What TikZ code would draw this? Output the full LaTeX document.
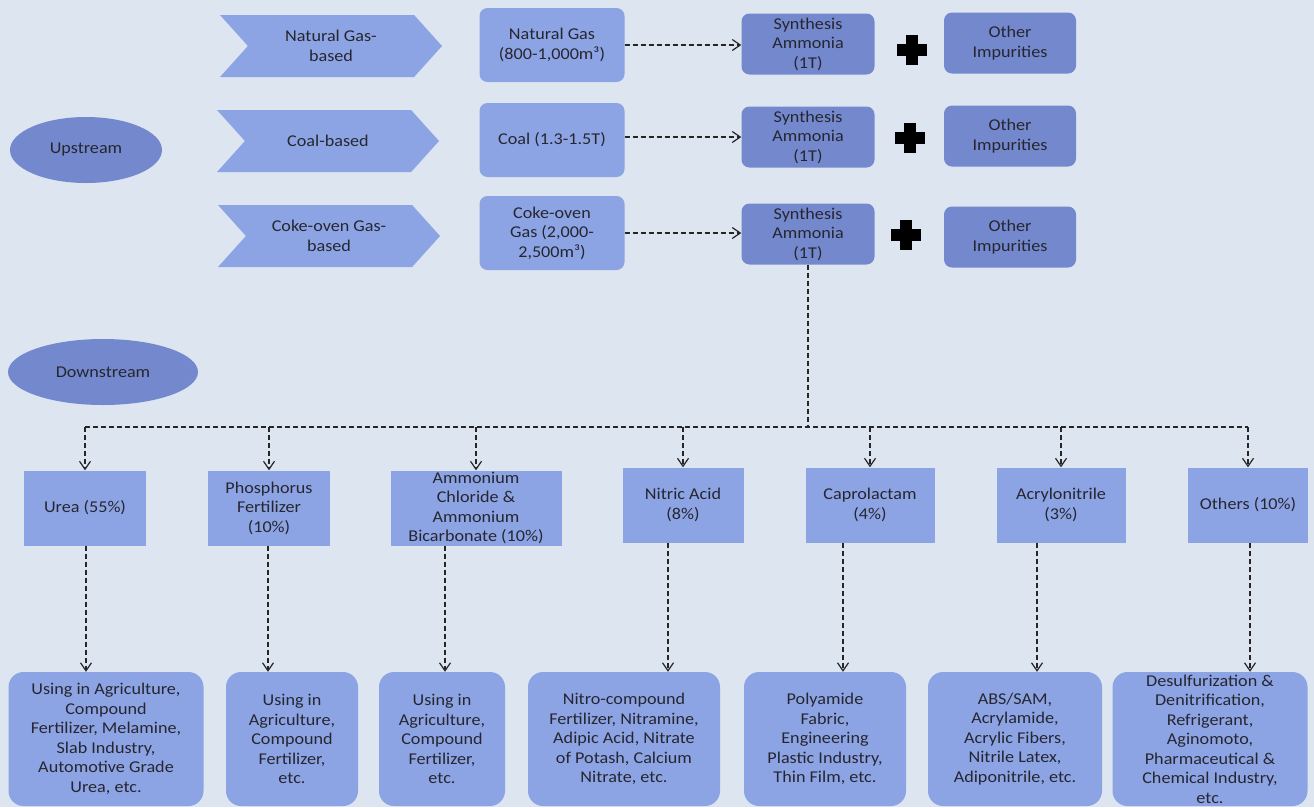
\documentclass[tikz,border=0pt]{standalone}
\usepackage{fontspec}
\setmainfont{Carlito}[FakeStretch=1.1]
\usetikzlibrary{arrows.meta, shapes.geometric, shapes.symbols}
\definecolor{bgblue}{RGB}{221,229,241}
\definecolor{lightbox}{RGB}{141,164,228}
\definecolor{darkbox}{RGB}{116,136,206}
\definecolor{txtgray}{RGB}{38,38,48}

\begin{document}
\begin{tikzpicture}[x=1pt, y=-1pt,
        base/.style={inner sep=0pt, align=center, text=txtgray, font=\fontsize{16.5}{19.5}\selectfont},
        stage/.style={base, ellipse, fill=darkbox, minimum height=66pt},
        chev/.style={base, signal, signal from=west, signal to=east, signal pointer angle=96,
            fill=lightbox, minimum width=222pt, minimum height=62pt},
        rawbox/.style={base, rounded corners=8pt, fill=lightbox, minimum width=145pt, minimum height=74pt},
        darkbox/.style={base, rounded corners=8pt, fill=darkbox, minimum width=133pt, minimum height=61pt},
        prodbox/.style={base, fill=lightbox, minimum height=75pt},
        usebox/.style={base, rounded corners=15pt, fill=lightbox, minimum height=134pt},
        dline/.style={draw=black!85, line width=1.3pt, dash pattern=on 5pt off 3pt},
        flow/.style={dline, -{Straight Barb[length=8pt,width=11pt,line width=1.2pt]}}]

        \useasboundingbox (0,0) rectangle (1314,807);
        \fill[bgblue] (0,0) rectangle (1314,807);

        % upstream
        \node[stage, minimum width=152pt] (up) at (86,150) {Upstream};
        \node[stage, minimum width=190pt] (down) at (103,372) {Downstream};

        \node[chev] (ng) at (331,46) {Natural Gas-\\based};
        \node[chev] (coal) at (328,141) {Coal-based};
        \node[chev] (coke) at (329,236) {Coke-oven Gas-\\based};

        \node[rawbox] (raw1) at (552,45) {Natural Gas\\(800-1,000m³)};
        \node[rawbox] (raw2) at (552,140) {Coal (1.3-1.5T)};
        \node[rawbox] (raw3) at (552,233) {Coke-oven\\Gas (2,000-\\2,500m³)};

        \node[darkbox] (syn1) at (808,44) {Synthesis\\Ammonia\\(1T)};
        \node[darkbox] (syn2) at (808,137) {Synthesis\\Ammonia\\(1T)};
        \node[darkbox] (syn3) at (808,234) {Synthesis\\Ammonia\\(1T)};

        \node[darkbox, minimum width=132pt] (imp1) at (1010,43) {Other\\Impurities};
        \node[darkbox, minimum width=132pt] (imp2) at (1010,136) {Other\\Impurities};
        \node[darkbox, minimum width=132pt] (imp3) at (1010,237) {Other\\Impurities};

        \foreach \px/\py in {912/50, 910/138, 906/235} {
            \fill[black] (\px-15,\py-6) rectangle (\px+15,\py+6);
            \fill[black] (\px-6,\py-15) rectangle (\px+6,\py+15);
        }

        \draw[flow] (raw1.east) -- (raw1.east -| syn1.west);
        \draw[flow] (raw2.east |- syn2.west) -- (syn2.west);
        \draw[flow] (raw3.east) -- (raw3.east -| syn3.west);

        % downstream
        \node[prodbox, minimum width=122pt] (urea) at (85,508) {Urea (55\%)};
        \node[prodbox, minimum width=122pt] (phos) at (269,508) {Phosphorus\\Fertilizer\\(10\%)};
        \node[prodbox, minimum width=171pt] (amm) at (476,508) {Ammonium\\Chloride \&\\Ammonium\\Bicarbonate (10\%)};
        \node[prodbox, minimum width=121pt] (nitric) at (683,505) {Nitric Acid\\(8\%)};
        \node[prodbox, minimum width=129pt] (capro) at (870,505) {Caprolactam\\(4\%)};
        \node[prodbox, minimum width=129pt] (acryl) at (1061,505) {Acrylonitrile\\(3\%)};
        \node[prodbox, minimum width=120pt] (others) at (1248,505) {Others (10\%)};

        \node[usebox, minimum width=195pt] (use1) at (106,739) {Using in Agriculture,\\Compound\\Fertilizer, Melamine,\\Slab Industry,\\Automotive Grade\\Urea, etc.};
        \node[usebox, minimum width=132pt] (use2) at (292,739) {Using in\\Agriculture,\\Compound\\Fertilizer,\\etc.};
        \node[usebox, minimum width=126pt] (use3) at (442,739) {Using in\\Agriculture,\\Compound\\Fertilizer,\\etc.};
        \node[usebox, minimum width=192pt] (use4) at (624,739) {Nitro-compound\\Fertilizer, Nitramine,\\Adipic Acid, Nitrate\\of Potash, Calcium\\Nitrate, etc.};
        \node[usebox, minimum width=162pt] (use5) at (825,739) {Polyamide\\Fabric,\\Engineering\\Plastic Industry,\\Thin Film, etc.};
        \node[usebox, minimum width=174pt] (use6) at (1015,739) {ABS/SAM,\\Acrylamide,\\Acrylic Fibers,\\Nitrile Latex,\\Adiponitrile, etc.};
        \node[usebox, minimum width=195pt] (use7) at (1210,739) {Desulfurization \&\\Denitrification,\\Refrigerant,\\Aginomoto,\\Pharmaceutical \&\\Chemical Industry,\\etc.};

        \coordinate (bus) at (0,427);
        \draw[dline] (syn3.south) -- (syn3.south |- bus);
        \draw[dline] (urea.north |- bus) -- (others.north |- bus);
        \foreach \n in {urea, phos, amm, nitric, capro, acryl, others}
            \draw[flow] (\n.north |- bus) -- (\n.north);

        \draw[flow] (urea.south -| 86,0) -- (use1.north -| 86,0);
        \draw[flow] (phos.south -| 268,0) -- (use2.north -| 268,0);
        \draw[flow] (amm.south -| 445,0) -- (use3.north -| 445,0);
        \draw[flow] (nitric.south -| 668,0) -- (use4.north -| 668,0);
        \draw[flow] (capro.south -| 843,0) -- (use5.north -| 843,0);
        \draw[flow] (acryl.south -| 1037,0) -- (use6.north -| 1037,0);
        \draw[flow] (others.south -| 1250,0) -- (use7.north -| 1250,0);

    \end{tikzpicture}
\end{document}
